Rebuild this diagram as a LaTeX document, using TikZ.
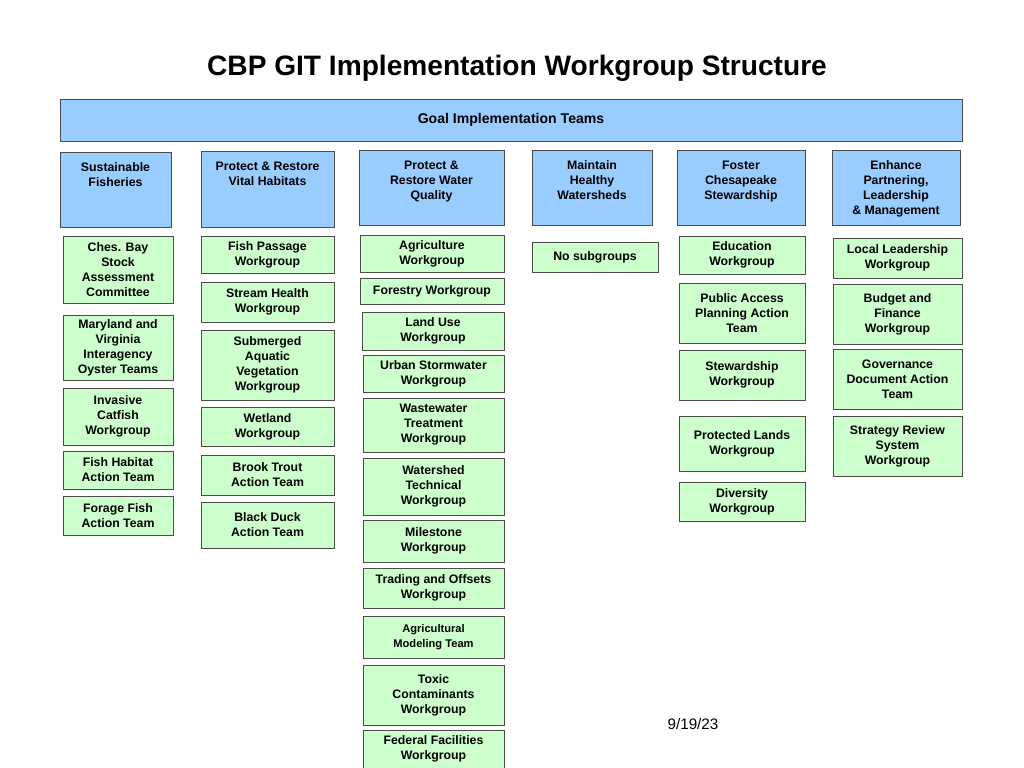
\documentclass[tikz,border=0pt]{standalone}
\usepackage{fontspec}
\setmainfont{Liberation Sans}
\definecolor{teamblue}{HTML}{99CCFF}
\definecolor{wggreen}{HTML}{CCFFCC}
\tikzset{
  box/.style={draw=black!70, line width=0.6pt, inner sep=0pt, align=center,
    font=\fontsize{10.5}{12.8}\selectfont\bfseries},
  teambox/.style={box, fill=teamblue},
  wgbox/.style={box, fill=wggreen},
  toptext/.style={anchor=north, yshift=-6pt, align=center,
    font=\fontsize{10.5}{12.8}\selectfont\bfseries}
}
% #1 style, #2 name, #3-#6 corners (x1,y1,x2,y2), #7 text
\newcommand\cell[7]{%
  \node[#1, minimum width={(#5-#3)*0.03cm}, minimum height={(#6-#4)*0.03cm}]
    (#2) at ({(#3+#5)/2},{(#4+#6)/2}) {#7};}
\newcommand\team[6]{%
  \node[teambox, minimum width={(#4-#2)*0.03cm}, minimum height={(#5-#3)*0.03cm},
    label={[toptext]north:{#6}}] (#1) at ({(#2+#4)/2},{(#3+#5)/2}) {};}
\begin{document}
\begin{tikzpicture}[x=0.03cm, y=-0.03cm]
\useasboundingbox (0,0) rectangle (1024,768);

% title
\node[font=\fontsize{24}{28}\selectfont\bfseries] (title) at (517,68)
  {CBP GIT Implementation Workgroup Structure};
\cell{teambox}{git}{60}{99}{962}{141}{\fontsize{12}{14}\selectfont Goal Implementation Teams}

% goal teams
\team{fish}{60}{152}{171}{227}{Sustainable\\Fisheries}
\team{habitat}{201}{151}{334}{227}{Protect \& Restore\\Vital Habitats}
\team{water}{359}{150}{504}{225}{Protect \&\\Restore Water\\Quality}
\team{shed}{532}{150}{652}{225}{Maintain\\Healthy\\Watersheds}
\team{steward}{677}{150}{805}{225}{Foster\\Chesapeake\\Stewardship}
\team{enhance}{832}{150}{960}{225}{Enhance\\Partnering,\\Leadership\\\& Management}

% fisheries
\cell{wgbox}{stock}{63}{236}{173}{303}{Ches. Bay\\Stock\\Assessment\\Committee}
\cell{wgbox}{oyster}{63}{315}{173}{380}{Maryland and\\Virginia\\Interagency\\Oyster Teams}
\cell{wgbox}{catfish}{63}{388}{173}{445}{Invasive\\Catfish\\Workgroup}
\cell{wgbox}{fhab}{63}{451}{173}{489}{Fish Habitat\\Action Team}
\cell{wgbox}{forage}{63}{496}{173}{535}{Forage Fish\\Action Team}

% habitats
\cell{wgbox}{passage}{201}{236}{334}{273}{Fish Passage\\Workgroup}
\cell{wgbox}{stream}{201}{282}{334}{322}{Stream Health\\Workgroup}
\cell{wgbox}{sav}{201}{330}{334}{400}{Submerged\\Aquatic\\Vegetation\\Workgroup}
\cell{wgbox}{wetland}{201}{407}{334}{446}{Wetland\\Workgroup}
\cell{wgbox}{trout}{201}{455}{334}{495}{Brook Trout\\Action Team}
\cell{wgbox}{duck}{201}{502}{334}{548}{Black Duck\\Action Team}

% water quality
\cell{wgbox}{agri}{360}{235}{504}{272}{Agriculture\\Workgroup}
\cell{wgbox}{forest}{360}{278}{504}{304}{Forestry Workgroup}
\cell{wgbox}{landuse}{362}{312}{504}{350}{Land Use\\Workgroup}
\cell{wgbox}{urban}{363}{355}{504}{392}{Urban Stormwater\\Workgroup}
\cell{wgbox}{waste}{363}{398}{504}{452}{Wastewater\\Treatment\\Workgroup}
\cell{wgbox}{wtech}{363}{458}{504}{515}{Watershed\\Technical\\Workgroup}
\cell{wgbox}{milestone}{363}{520}{504}{562}{Milestone\\Workgroup}
\cell{wgbox}{trading}{363}{568}{504}{608}{Trading and Offsets\\Workgroup}
\cell{wgbox}{agmodel}{363}{616}{504}{658}{\fontsize{9.5}{12.8}\selectfont Agricultural\\\fontsize{9.5}{12.8}\selectfont Modeling Team}
\cell{wgbox}{toxic}{363}{665}{504}{725}{Toxic\\Contaminants\\Workgroup}
\cell{wgbox}{federal}{363}{730}{504}{768}{Federal Facilities\\Workgroup}

% watersheds
\cell{wgbox}{nosub}{532}{242}{658}{272}{No subgroups}

% stewardship
\cell{wgbox}{edu}{679}{236}{805}{274}{Education\\Workgroup}
\cell{wgbox}{access}{679}{283}{805}{343}{Public Access\\Planning Action\\Team}
\cell{wgbox}{stewwg}{679}{350}{805}{400}{Stewardship\\Workgroup}
\cell{wgbox}{lands}{679}{416}{805}{471}{Protected Lands\\Workgroup}
\cell{wgbox}{divers}{679}{482}{805}{521}{Diversity\\Workgroup}

% partnering
\cell{wgbox}{local}{833}{238}{962}{278}{Local Leadership\\Workgroup}
\cell{wgbox}{budget}{833}{284}{962}{344}{Budget and\\Finance\\Workgroup}
\cell{wgbox}{govern}{833}{349}{962}{409}{Governance\\Document Action\\Team}
\cell{wgbox}{strategy}{833}{416}{962}{476}{Strategy Review\\System\\Workgroup}

\node[font=\fontsize{13}{15}\selectfont] (date) at (693,724) {9/19/23};
\end{tikzpicture}
\end{document}
